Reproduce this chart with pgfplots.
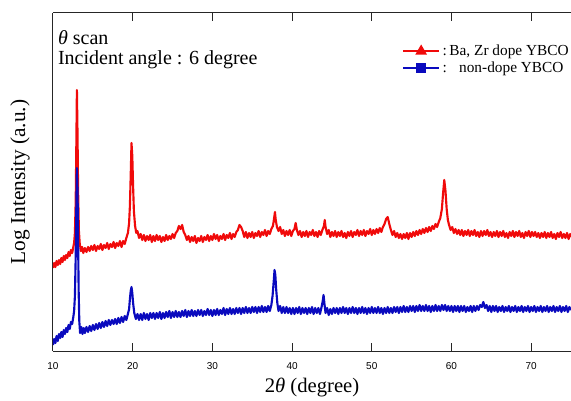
\documentclass[border=0pt]{standalone}
\usepackage{pgfplots}
\pgfplotsset{compat=1.18}
\usepackage{fontspec}
\setmainfont{Liberation Serif}
\newfontfamily\tickfont{Liberation Sans}
\definecolor{xred}{RGB}{240,10,10}
\definecolor{xblue}{RGB}{10,10,190}
\begin{document}
\begin{tikzpicture}
\begin{axis}[
  scale only axis, width=388.5pt, height=253.5pt,
  xmin=10, xmax=75, ymin=0, ymax=338,
  axis x line*=box, axis y line*=left,
  axis line style={-, line width=0.75pt, black!85},
  xtick={10,20,...,70}, ytick=\empty,
  tick align=inside, major tick length=6pt,
  every tick/.style={black!85, line width=0.75pt},
  xticklabel style={font=\tickfont\fontsize{7.5}{9}\selectfont, yshift=-5pt},
  /pgf/number format/assume math mode=true,
  xlabel={2\textit{θ} (degree)},
  xlabel style={at={(axis description cs:0.5,0)}, anchor=center, yshift=-27.5pt, font=\fontsize{15.5}{17}\selectfont},
  ylabel={Log Intensity (a.u.)},
  ylabel style={at={(axis description cs:-0.0637,0.5)}, anchor=center, font=\fontsize{16}{18}\selectfont},
  legend style={at={(axis cs:53.8,309)}, anchor=north west, draw=none, fill=none, inner sep=0pt,
    font=\fontsize{11.5}{13}\selectfont, row sep=-1pt, cells={anchor=west}},
  legend image code/.code={\draw[mark repeat=2,mark phase=2,#1] plot coordinates {(0cm,0cm) (0.47cm,0cm) (0.94cm,0cm)};},
  clip=true,
]
\addlegendimage{xred, line width=1.5pt, mark=triangle*, mark size=3.6pt}
\addlegendentry{:\,Ba, Zr dope YBCO}
\addlegendimage{xblue, line width=1.5pt, mark=square*, mark size=2.8pt}
\addlegendentry{:\hspace{0.8em}non-dope YBCO}

\addplot[xred, line width=1.6pt, line join=round, forget plot] coordinates {
(10.00,83)(10.15,88)(10.3,84)(10.45,90)(10.6,86)(10.75,91)(10.9,87)(11.05,93)(11.2,89)(11.35,95)(11.5,91)(11.65,96)(11.8,93)(11.95,99)(12.1,95)(12.25,101)(12.4,98)(12.55,104)(12.65,108)(12.75,118)(12.85,150)(12.92,200)(13.0,261)(13.08,215)(13.15,160)(13.25,120)(13.35,108)(13.5,100)(13.65,104)(13.8,98)(14.0,103)(14.2,99)(14.4,104)(14.6,100)(14.8,105)(15.0,101)(15.2,106)(15.4,100)(15.6,105)(15.8,102)(16.0,107)(16.2,101)(16.4,106)(16.6,103)(16.8,108)(17.0,102)(17.2,107)(17.4,104)(17.6,109)(17.8,103)(18.0,108)(18.2,105)(18.4,110)(18.6,104)(18.8,110)(19.0,107)(19.2,113)(19.4,118)(19.55,128)(19.65,145)(19.75,175)(19.85,208)(19.95,195)(20.05,165)(20.15,140)(20.3,125)(20.45,118)(20.6,120)(20.8,113)(21.0,117)(21.2,111)(21.4,116)(21.6,110)(21.8,115)(22.0,111)(22.2,116)(22.4,109)(22.6,115)(22.8,110)(23.0,116)(23.2,111)(23.4,115)(23.6,109)(23.8,114)(24.0,110)(24.2,116)(24.4,111)(24.6,115)(24.8,112)(25.0,117)(25.2,113)(25.4,118)(25.6,120)(25.8,125)(26.0,122)(26.2,126)(26.4,119)(26.6,116)(26.8,111)(27.0,115)(27.2,109)(27.4,114)(27.6,110)(27.8,115)(28.0,108)(28.2,113)(28.4,110)(28.6,115)(28.8,109)(29.0,114)(29.2,111)(29.4,116)(29.6,110)(29.8,115)(30.0,111)(30.2,117)(30.4,112)(30.6,116)(30.8,110)(31.0,115)(31.2,112)(31.4,117)(31.6,111)(31.8,116)(32.0,113)(32.2,118)(32.4,112)(32.6,117)(32.8,114)(33.0,119)(33.2,121)(33.4,126)(33.6,124)(33.8,120)(34.0,114)(34.2,119)(34.4,113)(34.6,118)(34.8,114)(35.0,119)(35.2,113)(35.4,118)(35.6,115)(35.8,120)(36.0,114)(36.2,119)(36.4,116)(36.6,121)(36.8,115)(37.0,120)(37.2,117)(37.4,122)(37.6,125)(37.75,133)(37.85,139)(37.95,131)(38.1,124)(38.3,120)(38.5,124)(38.7,117)(38.9,121)(39.1,115)(39.3,120)(39.5,116)(39.7,121)(39.9,115)(40.1,120)(40.3,122)(40.45,128)(40.6,121)(40.8,116)(41.0,120)(41.2,114)(41.4,119)(41.6,115)(41.8,120)(42.0,114)(42.2,119)(42.4,116)(42.6,121)(42.8,115)(43.0,119)(43.2,114)(43.4,120)(43.6,116)(43.8,121)(44.0,125)(44.1,131)(44.2,124)(44.4,117)(44.6,121)(44.8,114)(45.0,119)(45.2,115)(45.4,120)(45.6,114)(45.8,119)(46.0,115)(46.2,120)(46.4,114)(46.6,118)(46.8,113)(47.0,119)(47.2,115)(47.4,120)(47.6,114)(47.8,119)(48.0,116)(48.2,121)(48.4,115)(48.6,120)(48.8,116)(49.0,121)(49.2,115)(49.4,120)(49.6,117)(49.8,122)(50.0,116)(50.2,121)(50.4,117)(50.6,122)(50.8,118)(51.0,123)(51.2,119)(51.4,124)(51.6,127)(51.8,132)(52.0,134)(52.2,127)(52.4,121)(52.6,116)(52.8,120)(53.0,114)(53.2,118)(53.4,113)(53.6,117)(53.8,112)(54.0,117)(54.2,113)(54.4,118)(54.6,112)(54.8,118)(55.0,114)(55.2,119)(55.4,115)(55.6,120)(55.8,116)(56.0,121)(56.2,117)(56.4,122)(56.6,118)(56.8,123)(57.0,119)(57.2,124)(57.4,120)(57.6,125)(57.8,122)(58.0,127)(58.2,124)(58.4,129)(58.6,133)(58.8,142)(58.95,158)(59.1,171)(59.25,160)(59.4,142)(59.55,131)(59.7,126)(59.9,121)(60.1,124)(60.3,118)(60.5,122)(60.7,117)(60.9,121)(61.1,116)(61.3,121)(61.5,115)(61.7,120)(61.9,116)(62.1,121)(62.3,115)(62.5,120)(62.7,116)(62.9,121)(63.1,115)(63.3,119)(63.5,114)(63.7,120)(63.9,115)(64.1,120)(64.3,116)(64.5,121)(64.7,115)(64.9,119)(65.1,114)(65.3,119)(65.5,115)(65.7,120)(65.9,114)(66.1,119)(66.3,115)(66.5,120)(66.7,114)(66.9,118)(67.1,113)(67.3,119)(67.5,115)(67.7,120)(67.9,114)(68.1,119)(68.3,115)(68.5,120)(68.7,114)(68.9,118)(69.1,113)(69.3,119)(69.5,115)(69.7,120)(69.9,114)(70.1,119)(70.3,115)(70.5,119)(70.7,114)(70.9,118)(71.1,113)(71.3,118)(71.5,114)(71.7,119)(71.9,113)(72.1,118)(72.3,114)(72.5,119)(72.7,113)(72.9,117)(73.1,112)(73.3,118)(73.5,114)(73.7,119)(73.9,113)(74.1,117)(74.3,113)(74.5,118)(74.7,112)(74.9,117)(75.0,114)
};

\addplot[xblue, line width=1.6pt, line join=round, forget plot] coordinates {
(10.0,6)(10.15,12)(10.3,8)(10.45,15)(10.6,10)(10.75,17)(10.9,13)(11.05,19)(11.2,14)(11.35,21)(11.5,17)(11.65,23)(11.8,19)(11.95,26)(12.1,22)(12.25,29)(12.4,27)(12.55,34)(12.65,40)(12.75,55)(12.85,95)(12.92,140)(13.0,183)(13.08,160)(13.15,110)(13.22,60)(13.3,30)(13.4,18)(13.55,24)(13.7,17)(13.85,23)(14.0,18)(14.2,24)(14.4,19)(14.6,25)(14.8,20)(15.0,26)(15.2,21)(15.4,27)(15.6,22)(15.8,28)(16.0,23)(16.2,29)(16.4,24)(16.6,30)(16.8,25)(17.0,31)(17.2,26)(17.4,31)(17.6,27)(17.8,32)(18.0,27)(18.2,33)(18.4,28)(18.6,34)(18.8,29)(19.0,35)(19.2,31)(19.4,37)(19.55,42)(19.65,52)(19.75,60)(19.85,64)(19.95,58)(20.05,48)(20.2,38)(20.4,32)(20.6,37)(20.8,31)(21.0,37)(21.2,31)(21.4,38)(21.6,32)(21.8,37)(22.0,31)(22.2,38)(22.4,33)(22.6,38)(22.8,32)(23.0,38)(23.2,33)(23.4,39)(23.6,32)(23.8,38)(24.0,33)(24.2,39)(24.4,34)(24.6,40)(24.8,33)(25.0,39)(25.2,34)(25.4,40)(25.6,34)(25.8,39)(26.0,34)(26.2,40)(26.4,35)(26.6,41)(26.8,34)(27.0,40)(27.2,35)(27.4,41)(27.6,35)(27.8,40)(28.0,35)(28.2,41)(28.4,36)(28.6,41)(28.8,35)(29.0,40)(29.2,36)(29.4,42)(29.6,36)(29.8,41)(30.0,35)(30.2,41)(30.4,36)(30.6,42)(30.8,36)(31.0,41)(31.2,37)(31.4,43)(31.6,36)(31.8,42)(32.0,37)(32.2,43)(32.4,37)(32.6,42)(32.8,37)(33.0,43)(33.2,38)(33.4,43)(33.6,37)(33.8,43)(34.0,38)(34.2,44)(34.4,38)(34.6,43)(34.8,38)(35.0,44)(35.2,39)(35.4,44)(35.6,38)(35.8,44)(36.0,39)(36.2,45)(36.4,39)(36.6,44)(36.8,39)(37.0,45)(37.2,40)(37.4,46)(37.55,55)(37.7,70)(37.8,81)(37.9,76)(38.0,62)(38.15,48)(38.3,40)(38.5,45)(38.7,38)(38.9,44)(39.1,38)(39.3,44)(39.5,38)(39.7,43)(39.9,37)(40.1,43)(40.3,37)(40.5,43)(40.7,38)(40.9,44)(41.1,37)(41.3,43)(41.5,38)(41.7,43)(41.9,37)(42.1,43)(42.3,38)(42.5,44)(42.7,37)(42.9,43)(43.1,38)(43.3,43)(43.5,37)(43.7,44)(43.85,50)(43.95,56)(44.05,48)(44.2,38)(44.4,43)(44.6,36)(44.8,42)(45.0,37)(45.2,43)(45.4,38)(45.6,43)(45.8,37)(46.0,43)(46.2,38)(46.4,44)(46.6,38)(46.8,43)(47.0,37)(47.2,43)(47.4,38)(47.6,44)(47.8,38)(48.0,43)(48.2,37)(48.4,43)(48.6,38)(48.8,44)(49.0,38)(49.2,43)(49.4,37)(49.6,43)(49.8,38)(50.0,44)(50.2,38)(50.4,43)(50.6,38)(50.8,44)(51.0,38)(51.2,43)(51.4,37)(51.6,43)(51.8,38)(52.0,44)(52.2,38)(52.4,43)(52.6,38)(52.8,44)(53.0,39)(53.2,44)(53.4,38)(53.6,44)(53.8,39)(54.0,45)(54.2,39)(54.4,44)(54.6,39)(54.8,45)(55.0,40)(55.2,45)(55.4,39)(55.6,45)(55.8,40)(56.0,46)(56.2,40)(56.4,45)(56.6,40)(56.8,46)(57.0,40)(57.2,45)(57.4,39)(57.6,45)(57.8,40)(58.0,46)(58.2,40)(58.4,45)(58.6,40)(58.8,46)(59.0,41)(59.2,46)(59.4,40)(59.6,45)(59.8,40)(60.0,45)(60.2,39)(60.4,45)(60.6,40)(60.8,45)(61.0,39)(61.2,45)(61.4,40)(61.6,45)(61.8,39)(62.0,44)(62.2,40)(62.4,45)(62.6,39)(62.8,45)(63.0,40)(63.2,45)(63.4,41)(63.6,46)(63.8,44)(64.0,49)(64.2,43)(64.4,46)(64.6,40)(64.8,45)(65.0,39)(65.2,45)(65.4,40)(65.6,45)(65.8,39)(66.0,44)(66.2,40)(66.4,45)(66.6,39)(66.8,44)(67.0,40)(67.2,45)(67.4,39)(67.6,44)(67.8,40)(68.0,45)(68.2,39)(68.4,44)(68.6,40)(68.8,45)(69.0,39)(69.2,44)(69.4,40)(69.6,45)(69.8,39)(70.0,44)(70.2,40)(70.4,45)(70.6,39)(70.8,44)(71.0,40)(71.2,45)(71.4,39)(71.6,44)(71.8,40)(72.0,45)(72.2,39)(72.4,44)(72.6,40)(72.8,45)(73.0,39)(73.2,44)(73.4,40)(73.6,45)(73.8,39)(74.0,44)(74.2,40)(74.4,45)(74.6,39)(74.8,44)(75.0,41)
};

\node[anchor=west, font=\fontsize{15}{17}\selectfont, inner sep=0pt] at (axis cs:10.6,313) {\textit{θ} scan};
\node[anchor=west, font=\fontsize{15}{17}\selectfont, inner sep=0pt] at (axis cs:10.6,291) {Incident angle : 6 degree};
\coordinate (BL) at (rel axis cs:0,0);
\coordinate (TR) at (rel axis cs:1,1);
\end{axis}
\pgfresetboundingbox
\path[use as bounding box] ([xshift=-39.75pt,yshift=-36.75pt]BL) rectangle ([yshift=9.75pt]TR);
\end{tikzpicture}
\end{document}
